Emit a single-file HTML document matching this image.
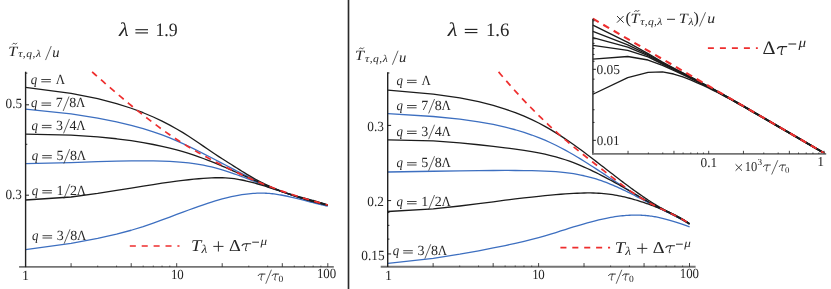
<!DOCTYPE html>
<html><head><meta charset="utf-8"><title>plot</title>
<style>
html,body{margin:0;padding:0;background:#fff;}
body{width:831px;height:289px;overflow:hidden;}
svg{display:block;font-family:"Liberation Serif",serif;text-rendering:geometricPrecision;}
</style></head><body>
<svg width="831" height="289" viewBox="0 0 831 289">
<defs><filter id="g" filterUnits="userSpaceOnUse" x="0" y="0" width="831" height="289"><feOffset dx="0" dy="0"/></filter></defs>
<rect width="831" height="289" fill="#fff"/>
<g id="curves">
<path d="M25.50,109.20 L71.09,113.90 L97.69,118.13 L116.57,121.90 L131.21,125.35 L143.18,128.63 L153.29,131.81 L162.06,134.92 L169.79,137.97 L176.70,140.90 L182.95,143.70 L188.66,146.36 L193.92,148.89 L198.78,151.29 L203.31,153.57 L207.54,155.73 L211.52,157.78 L215.27,159.72 L218.82,161.57 L222.19,163.33 L225.39,165.00 L228.44,166.60 L231.36,168.12 L234.15,169.58 L236.83,170.97 L239.40,172.29 L241.88,173.56 L244.27,174.78 L246.57,175.95 L248.79,177.06 L250.94,178.13 L253.03,179.16 L255.05,180.15 L257.01,181.09 L258.91,182.00 L260.76,182.86 L262.56,183.69 L264.31,184.48 L266.01,185.24 L267.67,185.96 L269.29,186.65 L270.87,187.31 L272.42,187.94 L273.93,188.55 L275.40,189.13 L276.84,189.68 L278.25,190.22 L279.64,190.73 L280.99,191.22 L282.31,191.69 L283.61,192.15 L284.89,192.58 L286.14,193.01 L287.36,193.41 L288.57,193.80 L289.75,194.18 L290.91,194.55 L292.05,194.90 L293.18,195.25 L294.28,195.58 L295.36,195.90 L296.43,196.22 L297.48,196.53 L298.51,196.83 L299.53,197.12 L300.53,197.41 L301.52,197.69 L302.49,197.96 L303.45,198.23 L304.39,198.49 L305.33,198.75 L306.24,199.00 L307.15,199.25 L308.04,199.49 L308.92,199.73 L309.79,199.97 L310.65,200.21 L311.50,200.44 L312.33,200.66 L313.16,200.89 L313.97,201.11 L314.78,201.33 L315.57,201.55 L316.36,201.76 L317.14,201.98 L317.90,202.19 L318.66,202.40 L319.41,202.60 L320.15,202.81 L320.89,203.02 L321.61,203.22 L322.33,203.42 L323.04,203.62 L323.74,203.82 L324.43,204.02 L325.12,204.22 L325.80,204.41 L326.47,204.61 L327.14,204.80 L327.80,205.00" fill="none" stroke="#3d6fc0" stroke-width="1.3" stroke-linejoin="round" />
<path d="M25.50,163.70 L71.09,162.62 L97.69,161.66 L116.57,161.10 L131.21,160.84 L143.18,160.78 L153.29,160.87 L162.06,161.08 L169.79,161.40 L176.70,161.83 L182.95,162.35 L188.66,162.96 L193.92,163.65 L198.78,164.39 L203.31,165.20 L207.54,166.06 L211.52,166.96 L215.27,167.89 L218.82,168.86 L222.19,169.84 L225.39,170.84 L228.44,171.83 L231.36,172.81 L234.15,173.79 L236.83,174.75 L239.40,175.69 L241.88,176.61 L244.27,177.51 L246.57,178.39 L248.79,179.24 L250.94,180.08 L253.03,180.89 L255.05,181.67 L257.01,182.44 L258.91,183.18 L260.76,183.89 L262.56,184.59 L264.31,185.26 L266.01,185.91 L267.67,186.54 L269.29,187.15 L270.87,187.74 L272.42,188.32 L273.93,188.87 L275.40,189.41 L276.84,189.93 L278.25,190.44 L279.64,190.93 L280.99,191.41 L282.31,191.87 L283.61,192.32 L284.89,192.76 L286.14,193.19 L287.36,193.61 L288.57,194.01 L289.75,194.41 L290.91,194.79 L292.05,195.17 L293.18,195.53 L294.28,195.89 L295.36,196.24 L296.43,196.58 L297.48,196.91 L298.51,197.23 L299.53,197.55 L300.53,197.85 L301.52,198.16 L302.49,198.45 L303.45,198.74 L304.39,199.02 L305.33,199.29 L306.24,199.56 L307.15,199.83 L308.04,200.08 L308.92,200.33 L309.79,200.58 L310.65,200.82 L311.50,201.06 L312.33,201.29 L313.16,201.51 L313.97,201.74 L314.78,201.95 L315.57,202.17 L316.36,202.37 L317.14,202.58 L317.90,202.78 L318.66,202.97 L319.41,203.16 L320.15,203.35 L320.89,203.54 L321.61,203.72 L322.33,203.90 L323.04,204.07 L323.74,204.24 L324.43,204.41 L325.12,204.57 L325.80,204.73 L326.47,204.89 L327.14,205.04 L327.80,205.20" fill="none" stroke="#3d6fc0" stroke-width="1.3" stroke-linejoin="round" />
<path d="M25.50,249.60 L71.09,243.29 L97.69,238.47 L116.57,234.20 L131.21,230.25 L143.18,226.56 L153.29,223.11 L162.06,219.94 L169.79,217.06 L176.70,214.46 L182.95,212.11 L188.66,209.99 L193.92,208.08 L198.78,206.35 L203.31,204.79 L207.54,203.38 L211.52,202.10 L215.27,200.95 L218.82,199.91 L222.19,198.97 L225.39,198.13 L228.44,197.37 L231.36,196.69 L234.15,196.09 L236.83,195.56 L239.40,195.09 L241.88,194.69 L244.27,194.33 L246.57,194.03 L248.79,193.78 L250.94,193.58 L253.03,193.41 L255.05,193.29 L257.01,193.20 L258.91,193.15 L260.76,193.13 L262.56,193.15 L264.31,193.19 L266.01,193.26 L267.67,193.35 L269.29,193.47 L270.87,193.61 L272.42,193.77 L273.93,193.95 L275.40,194.14 L276.84,194.34 L278.25,194.56 L279.64,194.78 L280.99,195.01 L282.31,195.25 L283.61,195.49 L284.89,195.74 L286.14,196.00 L287.36,196.26 L288.57,196.51 L289.75,196.78 L290.91,197.04 L292.05,197.30 L293.18,197.57 L294.28,197.83 L295.36,198.10 L296.43,198.36 L297.48,198.62 L298.51,198.88 L299.53,199.14 L300.53,199.40 L301.52,199.65 L302.49,199.90 L303.45,200.15 L304.39,200.40 L305.33,200.64 L306.24,200.88 L307.15,201.12 L308.04,201.36 L308.92,201.59 L309.79,201.82 L310.65,202.04 L311.50,202.26 L312.33,202.48 L313.16,202.70 L313.97,202.91 L314.78,203.11 L315.57,203.32 L316.36,203.52 L317.14,203.71 L317.90,203.91 L318.66,204.10 L319.41,204.28 L320.15,204.46 L320.89,204.64 L321.61,204.81 L322.33,204.98 L323.04,205.15 L323.74,205.31 L324.43,205.47 L325.12,205.63 L325.80,205.78 L326.47,205.93 L327.14,206.07 L327.80,206.21" fill="none" stroke="#3d6fc0" stroke-width="1.3" stroke-linejoin="round" />
<path d="M388.00,113.60 L433.23,116.48 L459.80,119.16 L478.65,121.82 L493.27,124.46 L505.22,127.10 L515.33,129.75 L524.08,132.38 L531.80,135.01 L538.70,137.61 L544.95,140.19 L550.65,142.74 L555.89,145.25 L560.75,147.73 L565.27,150.15 L569.50,152.51 L573.47,154.81 L577.22,157.02 L580.76,159.17 L584.13,161.24 L587.32,163.25 L590.37,165.18 L593.28,167.05 L596.07,168.85 L598.75,170.60 L601.32,172.28 L603.79,173.90 L606.18,175.47 L608.48,176.99 L610.70,178.45 L612.85,179.87 L614.93,181.24 L616.94,182.57 L618.90,183.85 L620.80,185.10 L622.65,186.30 L624.44,187.47 L626.19,188.60 L627.89,189.70 L629.55,190.76 L631.17,191.79 L632.75,192.79 L634.29,193.76 L635.80,194.70 L637.27,195.62 L638.71,196.51 L640.12,197.37 L641.50,198.21 L642.85,199.02 L644.17,199.80 L645.47,200.56 L646.74,201.30 L647.99,202.02 L649.22,202.71 L650.42,203.37 L651.60,204.02 L652.76,204.64 L653.90,205.25 L655.02,205.84 L656.12,206.41 L657.21,206.96 L658.27,207.50 L659.32,208.03 L660.35,208.54 L661.37,209.04 L662.37,209.53 L663.35,210.01 L664.33,210.48 L665.28,210.94 L666.23,211.40 L667.15,211.84 L668.07,212.28 L668.98,212.71 L669.87,213.14 L670.75,213.56 L671.61,213.98 L672.47,214.40 L673.32,214.81 L674.15,215.22 L674.98,215.63 L675.79,216.04 L676.59,216.44 L677.39,216.85 L678.17,217.25 L678.95,217.66 L679.72,218.06 L680.47,218.47 L681.22,218.88 L681.96,219.28 L682.70,219.69 L683.42,220.10 L684.14,220.51 L684.84,220.92 L685.54,221.34 L686.24,221.75 L686.92,222.17 L687.60,222.59 L688.28,223.01 L688.94,223.44 L689.50,223.80" fill="none" stroke="#3d6fc0" stroke-width="1.3" stroke-linejoin="round" />
<path d="M388.00,172.00 L433.23,171.23 L459.80,170.80 L478.65,170.58 L493.27,170.48 L505.22,170.46 L515.33,170.49 L524.08,170.57 L531.80,170.67 L538.70,170.82 L544.95,171.04 L550.65,171.33 L555.89,171.69 L560.75,172.11 L565.27,172.60 L569.50,173.14 L573.47,173.73 L577.22,174.37 L580.76,175.04 L584.13,175.76 L587.32,176.52 L590.37,177.30 L593.28,178.12 L596.07,178.96 L598.75,179.82 L601.32,180.69 L603.79,181.58 L606.18,182.48 L608.48,183.38 L610.70,184.28 L612.85,185.17 L614.93,186.06 L616.94,186.95 L618.90,187.83 L620.80,188.70 L622.65,189.56 L624.44,190.41 L626.19,191.25 L627.89,192.08 L629.55,192.90 L631.17,193.70 L632.75,194.50 L634.29,195.28 L635.80,196.05 L637.27,196.81 L638.71,197.55 L640.12,198.29 L641.50,199.01 L642.85,199.71 L644.17,200.40 L645.47,201.08 L646.74,201.75 L647.99,202.39 L649.22,203.03 L650.42,203.65 L651.60,204.25 L652.76,204.84 L653.90,205.42 L655.02,205.99 L656.12,206.54 L657.21,207.08 L658.27,207.62 L659.32,208.14 L660.35,208.66 L661.37,209.16 L662.37,209.66 L663.35,210.15 L664.33,210.64 L665.28,211.12 L666.23,211.59 L667.15,212.05 L668.07,212.51 L668.98,212.97 L669.87,213.42 L670.75,213.86 L671.61,214.31 L672.47,214.74 L673.32,215.18 L674.15,215.61 L674.98,216.03 L675.79,216.46 L676.59,216.88 L677.39,217.29 L678.17,217.71 L678.95,218.12 L679.72,218.53 L680.47,218.93 L681.22,219.34 L681.96,219.74 L682.70,220.14 L683.42,220.54 L684.14,220.94 L684.84,221.33 L685.54,221.72 L686.24,222.12 L686.92,222.51 L687.60,222.90 L688.28,223.28 L688.94,223.67 L689.50,224.00" fill="none" stroke="#3d6fc0" stroke-width="1.3" stroke-linejoin="round" />
<path d="M388.00,263.30 L433.23,258.34 L459.80,254.19 L478.65,250.80 L493.27,247.96 L505.22,245.52 L515.33,243.35 L524.08,241.35 L531.80,239.45 L538.70,237.62 L544.95,235.84 L550.65,234.14 L555.89,232.52 L560.75,230.99 L565.27,229.56 L569.50,228.23 L573.47,226.99 L577.22,225.83 L580.76,224.77 L584.13,223.78 L587.32,222.87 L590.37,222.03 L593.28,221.26 L596.07,220.55 L598.75,219.90 L601.32,219.31 L603.79,218.76 L606.18,218.27 L608.48,217.82 L610.70,217.42 L612.85,217.05 L614.93,216.73 L616.94,216.43 L618.90,216.18 L620.80,215.95 L622.65,215.75 L624.44,215.59 L626.19,215.44 L627.89,215.33 L629.55,215.24 L631.17,215.17 L632.75,215.12 L634.29,215.09 L635.80,215.08 L637.27,215.09 L638.71,215.12 L640.12,215.17 L641.50,215.23 L642.85,215.30 L644.17,215.39 L645.47,215.50 L646.74,215.62 L647.99,215.75 L649.22,215.89 L650.42,216.04 L651.60,216.21 L652.76,216.39 L653.90,216.57 L655.02,216.76 L656.12,216.97 L657.21,217.18 L658.27,217.39 L659.32,217.61 L660.35,217.84 L661.37,218.07 L662.37,218.30 L663.35,218.54 L664.33,218.78 L665.28,219.03 L666.23,219.27 L667.15,219.52 L668.07,219.77 L668.98,220.03 L669.87,220.28 L670.75,220.54 L671.61,220.79 L672.47,221.05 L673.32,221.31 L674.15,221.57 L674.98,221.82 L675.79,222.08 L676.59,222.34 L677.39,222.59 L678.17,222.85 L678.95,223.11 L679.72,223.36 L680.47,223.62 L681.22,223.87 L681.96,224.12 L682.70,224.37 L683.42,224.62 L684.14,224.87 L684.84,225.12 L685.54,225.36 L686.24,225.61 L686.92,225.85 L687.60,226.09 L688.28,226.33 L688.94,226.57 L689.60,226.81" fill="none" stroke="#3d6fc0" stroke-width="1.3" stroke-linejoin="round" />
<path d="M25.50,87.30 L71.09,93.47 L97.69,98.68 L116.57,103.58 L131.21,108.25 L143.18,112.73 L153.29,117.02 L162.06,121.14 L169.79,125.12 L176.70,128.95 L182.95,132.66 L188.66,136.26 L193.92,139.73 L198.78,143.03 L203.31,146.15 L207.54,149.07 L211.52,151.78 L215.27,154.29 L218.82,156.61 L222.19,158.78 L225.39,160.81 L228.44,162.73 L231.36,164.56 L234.15,166.33 L236.83,168.02 L239.40,169.64 L241.88,171.19 L244.27,172.67 L246.57,174.07 L248.79,175.40 L250.94,176.66 L253.03,177.86 L255.05,178.98 L257.01,180.06 L258.91,181.07 L260.76,182.03 L262.56,182.95 L264.31,183.82 L266.01,184.65 L267.67,185.44 L269.29,186.19 L270.87,186.90 L272.42,187.58 L273.93,188.23 L275.40,188.84 L276.84,189.43 L278.25,189.99 L279.64,190.53 L280.99,191.04 L282.31,191.53 L283.61,191.99 L284.89,192.43 L286.14,192.85 L287.36,193.26 L288.57,193.64 L289.75,194.02 L290.91,194.37 L292.05,194.72 L293.18,195.05 L294.28,195.37 L295.36,195.68 L296.43,195.98 L297.48,196.28 L298.51,196.56 L299.53,196.84 L300.53,197.11 L301.52,197.38 L302.49,197.64 L303.45,197.89 L304.39,198.14 L305.33,198.39 L306.24,198.63 L307.15,198.88 L308.04,199.11 L308.92,199.35 L309.79,199.58 L310.65,199.81 L311.50,200.04 L312.33,200.27 L313.16,200.50 L313.97,200.72 L314.78,200.95 L315.57,201.17 L316.36,201.39 L317.14,201.62 L317.90,201.84 L318.66,202.06 L319.41,202.28 L320.15,202.51 L320.89,202.73 L321.61,202.96 L322.33,203.18 L323.04,203.40 L323.74,203.63 L324.43,203.86 L325.12,204.08 L325.80,204.31 L326.47,204.54 L327.14,204.77 L327.80,205.00" fill="none" stroke="#1c1c1c" stroke-width="1.3" stroke-linejoin="round" />
<path d="M25.50,134.10 L71.09,135.21 L97.69,136.89 L116.57,138.77 L131.21,140.69 L143.18,142.61 L153.29,144.49 L162.06,146.35 L169.79,148.18 L176.70,149.97 L182.95,151.74 L188.66,153.47 L193.92,155.17 L198.78,156.84 L203.31,158.49 L207.54,160.09 L211.52,161.66 L215.27,163.19 L218.82,164.66 L222.19,166.09 L225.39,167.47 L228.44,168.80 L231.36,170.09 L234.15,171.32 L236.83,172.51 L239.40,173.66 L241.88,174.77 L244.27,175.83 L246.57,176.86 L248.79,177.85 L250.94,178.80 L253.03,179.72 L255.05,180.60 L257.01,181.46 L258.91,182.28 L260.76,183.07 L262.56,183.83 L264.31,184.57 L266.01,185.28 L267.67,185.96 L269.29,186.62 L270.87,187.26 L272.42,187.88 L273.93,188.47 L275.40,189.05 L276.84,189.61 L278.25,190.15 L279.64,190.67 L280.99,191.18 L282.31,191.67 L283.61,192.14 L284.89,192.61 L286.14,193.05 L287.36,193.49 L288.57,193.91 L289.75,194.32 L290.91,194.72 L292.05,195.11 L293.18,195.49 L294.28,195.85 L295.36,196.21 L296.43,196.56 L297.48,196.90 L298.51,197.22 L299.53,197.55 L300.53,197.86 L301.52,198.16 L302.49,198.46 L303.45,198.75 L304.39,199.03 L305.33,199.31 L306.24,199.57 L307.15,199.84 L308.04,200.09 L308.92,200.34 L309.79,200.58 L310.65,200.82 L311.50,201.05 L312.33,201.28 L313.16,201.50 L313.97,201.71 L314.78,201.93 L315.57,202.13 L316.36,202.33 L317.14,202.53 L317.90,202.72 L318.66,202.91 L319.41,203.09 L320.15,203.27 L320.89,203.44 L321.61,203.62 L322.33,203.78 L323.04,203.95 L323.74,204.11 L324.43,204.26 L325.12,204.42 L325.80,204.57 L326.47,204.71 L327.14,204.85 L327.80,204.99" fill="none" stroke="#1c1c1c" stroke-width="1.3" stroke-linejoin="round" />
<path d="M25.50,199.99 L71.09,197.00 L97.69,193.43 L116.57,190.46 L131.21,188.06 L143.18,186.11 L153.29,184.52 L162.06,183.19 L169.79,182.09 L176.70,181.17 L182.95,180.39 L188.66,179.74 L193.92,179.19 L198.78,178.73 L203.31,178.36 L207.54,178.07 L211.52,177.87 L215.27,177.75 L218.82,177.72 L222.19,177.77 L225.39,177.90 L228.44,178.10 L231.36,178.37 L234.15,178.71 L236.83,179.10 L239.40,179.53 L241.88,180.00 L244.27,180.50 L246.57,181.01 L248.79,181.55 L250.94,182.09 L253.03,182.64 L255.05,183.20 L257.01,183.75 L258.91,184.31 L260.76,184.86 L262.56,185.41 L264.31,185.95 L266.01,186.49 L267.67,187.02 L269.29,187.54 L270.87,188.05 L272.42,188.55 L273.93,189.04 L275.40,189.53 L276.84,190.00 L278.25,190.47 L279.64,190.93 L280.99,191.38 L282.31,191.82 L283.61,192.25 L284.89,192.67 L286.14,193.09 L287.36,193.50 L288.57,193.90 L289.75,194.29 L290.91,194.67 L292.05,195.05 L293.18,195.41 L294.28,195.77 L295.36,196.13 L296.43,196.47 L297.48,196.81 L298.51,197.14 L299.53,197.47 L300.53,197.78 L301.52,198.09 L302.49,198.40 L303.45,198.70 L304.39,198.99 L305.33,199.27 L306.24,199.55 L307.15,199.83 L308.04,200.09 L308.92,200.35 L309.79,200.61 L310.65,200.86 L311.50,201.11 L312.33,201.35 L313.16,201.58 L313.97,201.81 L314.78,202.03 L315.57,202.25 L316.36,202.47 L317.14,202.68 L317.90,202.88 L318.66,203.08 L319.41,203.28 L320.15,203.47 L320.89,203.65 L321.61,203.84 L322.33,204.02 L323.04,204.19 L323.74,204.36 L324.43,204.53 L325.12,204.69 L325.80,204.85 L326.47,205.00 L327.14,205.15 L327.80,205.30" fill="none" stroke="#1c1c1c" stroke-width="1.3" stroke-linejoin="round" />
<path d="M388.00,90.10 L433.23,94.06 L459.80,97.89 L478.65,101.71 L493.27,105.45 L505.22,109.10 L515.33,112.65 L524.08,116.15 L531.80,119.60 L538.70,123.00 L544.95,126.35 L550.65,129.63 L555.89,132.82 L560.75,135.91 L565.27,138.90 L569.50,141.78 L573.47,144.56 L577.22,147.24 L580.76,149.82 L584.13,152.31 L587.32,154.71 L590.37,157.01 L593.28,159.24 L596.07,161.38 L598.75,163.44 L601.32,165.43 L603.79,167.34 L606.18,169.19 L608.48,170.98 L610.70,172.70 L612.85,174.36 L614.93,175.96 L616.94,177.51 L618.90,179.01 L620.80,180.46 L622.65,181.86 L624.44,183.22 L626.19,184.53 L627.89,185.80 L629.55,187.03 L631.17,188.22 L632.75,189.37 L634.29,190.49 L635.80,191.57 L637.27,192.62 L638.71,193.64 L640.12,194.63 L641.50,195.58 L642.85,196.51 L644.17,197.41 L645.47,198.29 L646.74,199.14 L647.99,199.96 L649.22,200.76 L650.42,201.53 L651.60,202.28 L652.76,203.01 L653.90,203.72 L655.02,204.41 L656.12,205.07 L657.21,205.72 L658.27,206.35 L659.32,206.95 L660.35,207.54 L661.37,208.12 L662.37,208.67 L663.35,209.21 L664.33,209.73 L665.28,210.24 L666.23,210.73 L667.15,211.21 L668.07,211.68 L668.98,212.14 L669.87,212.59 L670.75,213.03 L671.61,213.46 L672.47,213.89 L673.32,214.32 L674.15,214.74 L674.98,215.15 L675.79,215.57 L676.59,215.98 L677.39,216.39 L678.17,216.80 L678.95,217.21 L679.72,217.63 L680.47,218.04 L681.22,218.45 L681.96,218.87 L682.70,219.29 L683.42,219.71 L684.14,220.13 L684.84,220.56 L685.54,220.99 L686.24,221.43 L686.92,221.87 L687.60,222.31 L688.28,222.76 L688.94,223.21 L689.50,223.60" fill="none" stroke="#1c1c1c" stroke-width="1.3" stroke-linejoin="round" />
<path d="M388.00,139.80 L433.23,140.87 L459.80,142.89 L478.65,144.75 L493.27,146.38 L505.22,147.80 L515.33,149.08 L524.08,150.32 L531.80,151.58 L538.70,152.86 L544.95,154.18 L550.65,155.52 L555.89,156.90 L560.75,158.31 L565.27,159.75 L569.50,161.20 L573.47,162.67 L577.22,164.14 L580.76,165.61 L584.13,167.06 L587.32,168.49 L590.37,169.90 L593.28,171.29 L596.07,172.65 L598.75,173.99 L601.32,175.30 L603.79,176.58 L606.18,177.83 L608.48,179.06 L610.70,180.26 L612.85,181.43 L614.93,182.58 L616.94,183.70 L618.90,184.80 L620.80,185.87 L622.65,186.92 L624.44,187.94 L626.19,188.94 L627.89,189.92 L629.55,190.88 L631.17,191.82 L632.75,192.74 L634.29,193.64 L635.80,194.52 L637.27,195.38 L638.71,196.22 L640.12,197.05 L641.50,197.85 L642.85,198.64 L644.17,199.40 L645.47,200.14 L646.74,200.86 L647.99,201.56 L649.22,202.24 L650.42,202.89 L651.60,203.52 L652.76,204.14 L653.90,204.73 L655.02,205.31 L656.12,205.87 L657.21,206.41 L658.27,206.94 L659.32,207.46 L660.35,207.97 L661.37,208.46 L662.37,208.94 L663.35,209.42 L664.33,209.88 L665.28,210.34 L666.23,210.78 L667.15,211.22 L668.07,211.66 L668.98,212.09 L669.87,212.52 L670.75,212.94 L671.61,213.36 L672.47,213.78 L673.32,214.20 L674.15,214.61 L674.98,215.03 L675.79,215.44 L676.59,215.86 L677.39,216.28 L678.17,216.70 L678.95,217.12 L679.72,217.54 L680.47,217.96 L681.22,218.39 L681.96,218.82 L682.70,219.25 L683.42,219.68 L684.14,220.12 L684.84,220.57 L685.54,221.01 L686.24,221.46 L686.92,221.91 L687.60,222.37 L688.28,222.83 L688.94,223.30 L689.50,223.70" fill="none" stroke="#1c1c1c" stroke-width="1.3" stroke-linejoin="round" />
<path d="M388.00,211.49 L433.23,208.84 L459.80,205.98 L478.65,203.65 L493.27,201.77 L505.22,200.23 L515.33,198.97 L524.08,197.92 L531.80,197.04 L538.70,196.29 L544.95,195.66 L550.65,195.12 L555.89,194.66 L560.75,194.27 L565.27,193.93 L569.50,193.65 L573.47,193.42 L577.22,193.23 L580.76,193.10 L584.13,193.01 L587.32,192.97 L590.37,192.97 L593.28,193.02 L596.07,193.11 L598.75,193.24 L601.32,193.40 L603.79,193.60 L606.18,193.83 L608.48,194.09 L610.70,194.38 L612.85,194.70 L614.93,195.04 L616.94,195.40 L618.90,195.78 L620.80,196.17 L622.65,196.57 L624.44,196.98 L626.19,197.40 L627.89,197.82 L629.55,198.25 L631.17,198.68 L632.75,199.12 L634.29,199.56 L635.80,200.00 L637.27,200.44 L638.71,200.88 L640.12,201.32 L641.50,201.76 L642.85,202.20 L644.17,202.65 L645.47,203.09 L646.74,203.53 L647.99,203.97 L649.22,204.41 L650.42,204.85 L651.60,205.30 L652.76,205.74 L653.90,206.18 L655.02,206.62 L656.12,207.06 L657.21,207.50 L658.27,207.94 L659.32,208.38 L660.35,208.82 L661.37,209.26 L662.37,209.69 L663.35,210.13 L664.33,210.57 L665.28,211.01 L666.23,211.44 L667.15,211.88 L668.07,212.32 L668.98,212.75 L669.87,213.19 L670.75,213.62 L671.61,214.05 L672.47,214.49 L673.32,214.92 L674.15,215.35 L674.98,215.78 L675.79,216.21 L676.59,216.64 L677.39,217.07 L678.17,217.50 L678.95,217.93 L679.72,218.35 L680.47,218.78 L681.22,219.21 L681.96,219.63 L682.70,220.06 L683.42,220.48 L684.14,220.90 L684.84,221.32 L685.54,221.75 L686.24,222.17 L686.92,222.59 L687.60,223.01 L688.28,223.43 L688.94,223.84 L689.50,224.20" fill="none" stroke="#1c1c1c" stroke-width="1.3" stroke-linejoin="round" />
<path d="M92.10,71.90 L94.75,74.24 L97.40,76.58 L100.04,78.90 L102.69,81.22 L105.34,83.54 L107.99,85.84 L110.64,88.13 L113.29,90.41 L115.93,92.68 L118.58,94.94 L121.23,97.19 L123.88,99.41 L126.53,101.63 L129.18,103.83 L131.82,106.01 L134.47,108.17 L137.12,110.31 L139.77,112.43 L142.42,114.53 L145.07,116.61 L147.71,118.67 L150.36,120.70 L153.01,122.71 L155.66,124.69 L158.31,126.65 L160.96,128.57 L163.60,130.47 L166.25,132.34 L168.90,134.18 L171.55,135.99 L174.20,137.77 L176.85,139.51 L179.49,141.23 L182.14,142.91 L184.79,144.56 L187.44,146.18 L190.09,147.78 L192.74,149.35 L195.38,150.89 L198.03,152.41 L200.68,153.91 L203.33,155.38 L205.98,156.83 L208.63,158.26 L211.27,159.68 L213.92,161.07 L216.57,162.45 L219.22,163.81 L221.87,165.15 L224.52,166.48 L227.16,167.79 L229.81,169.09 L232.46,170.37 L235.11,171.63 L237.76,172.88 L240.41,174.11 L243.05,175.33 L245.70,176.53 L248.35,177.71 L251.00,178.88 L253.65,180.04 L256.30,181.18 L258.94,182.30 L261.59,183.40 L264.24,184.48 L266.89,185.54 L269.54,186.57 L272.19,187.58 L274.83,188.57 L277.48,189.54 L280.13,190.49 L282.78,191.42 L285.43,192.33 L288.08,193.23 L290.72,194.10 L293.37,194.96 L296.02,195.81 L298.67,196.64 L301.32,197.45 L303.97,198.26 L306.61,199.05 L309.26,199.82 L311.91,200.59 L314.56,201.35 L317.21,202.09 L319.86,202.83 L322.50,203.56 L325.15,204.28 L327.80,205.00" fill="none" stroke="#ee2e2e" stroke-width="1.7" stroke-linejoin="round" stroke-dasharray="6.4 5.4"/>
<path d="M498.60,71.90 L500.74,74.44 L502.89,76.96 L505.03,79.45 L507.18,81.92 L509.32,84.37 L511.47,86.79 L513.61,89.19 L515.76,91.57 L517.90,93.92 L520.05,96.24 L522.19,98.55 L524.34,100.82 L526.48,103.08 L528.63,105.31 L530.77,107.52 L532.92,109.70 L535.06,111.86 L537.21,114.00 L539.35,116.11 L541.50,118.20 L543.64,120.26 L545.79,122.31 L547.93,124.32 L550.08,126.32 L552.22,128.29 L554.37,130.24 L556.51,132.16 L558.66,134.06 L560.80,135.94 L562.95,137.80 L565.09,139.65 L567.24,141.47 L569.38,143.27 L571.53,145.06 L573.67,146.84 L575.82,148.60 L577.96,150.34 L580.11,152.08 L582.25,153.80 L584.40,155.52 L586.54,157.22 L588.69,158.92 L590.83,160.61 L592.98,162.29 L595.12,163.97 L597.27,165.64 L599.41,167.31 L601.56,168.98 L603.70,170.65 L605.85,172.32 L607.99,173.99 L610.14,175.66 L612.28,177.33 L614.43,179.00 L616.57,180.67 L618.72,182.32 L620.86,183.96 L623.01,185.58 L625.15,187.18 L627.30,188.76 L629.44,190.31 L631.59,191.83 L633.73,193.31 L635.88,194.76 L638.02,196.16 L640.17,197.52 L642.31,198.83 L644.46,200.10 L646.60,201.34 L648.75,202.53 L650.89,203.68 L653.04,204.80 L655.18,205.89 L657.33,206.95 L659.47,207.99 L661.62,209.02 L663.76,210.05 L665.91,211.07 L668.05,212.09 L670.20,213.12 L672.34,214.17 L674.49,215.24 L676.63,216.33 L678.78,217.46 L680.92,218.63 L683.07,219.84 L685.21,221.10 L687.36,222.42 L689.50,223.80" fill="none" stroke="#ee2e2e" stroke-width="1.7" stroke-linejoin="round" stroke-dasharray="6.4 5.4"/>
</g>
<g id="inset-curves">
<path d="M592.90,25.06 L627.74,42.44 L648.06,53.54 L662.48,62.12 L673.66,68.12 L682.80,72.92 L690.52,76.91 L697.22,80.40 L703.12,83.53 L708.40,86.30 L713.18,88.91 L717.54,91.30 L721.55,93.53 L725.26,95.59 L728.72,97.50 L731.96,99.34 L734.99,101.06 L737.86,102.68 L740.57,104.22 L743.14,105.68 L745.58,107.10 L747.92,108.45 L750.14,109.75 L752.28,110.99 L754.32,112.17 L756.29,113.32 L758.18,114.41 L760.00,115.47 L761.76,116.50 L763.46,117.48 L765.10,118.44 L766.69,119.36 L768.24,120.26 L769.73,121.13 L771.19,121.97 L772.60,122.79 L773.97,123.59 L775.31,124.36 L776.61,125.12 L777.88,125.86 L779.12,126.58 L780.32,127.28 L781.50,127.96 L782.65,128.63 L783.78,129.29 L784.88,129.93 L785.96,130.55 L787.02,131.17 L788.05,131.77 L789.06,132.35 L790.05,132.93 L791.03,133.50 L791.98,134.05 L792.92,134.60 L793.84,135.13 L794.74,135.65 L795.63,136.17 L796.50,136.68 L797.36,137.17 L798.20,137.66 L799.03,138.14 L799.84,138.62 L800.64,139.08 L801.43,139.54 L802.21,139.99 L802.98,140.44 L803.73,140.88 L804.47,141.31 L805.20,141.73 L805.92,142.15 L806.64,142.56 L807.34,142.97 L808.03,143.37 L808.71,143.77 L809.38,144.16 L810.05,144.55 L810.70,144.93 L811.35,145.30 L811.99,145.67 L812.62,146.04 L813.24,146.40 L813.85,146.76 L814.46,147.11 L815.06,147.46 L815.65,147.80 L816.24,148.14 L816.82,148.48 L817.39,148.81 L817.96,149.14 L818.52,149.47 L819.07,149.79 L819.62,150.11 L820.16,150.42 L820.70,150.73 L821.23,151.04 L821.75,151.35 L822.27,151.65 L822.79,151.95 L823.30,152.24 L823.80,152.54" fill="none" stroke="#1c1c1c" stroke-width="1.35" stroke-linejoin="round"/>
<path d="M592.90,31.46 L627.74,44.94 L648.06,54.54 L662.48,62.72 L673.66,68.52 L682.80,73.22 L690.52,77.21 L697.22,80.70 L703.12,83.78 L708.40,86.55 L713.18,89.14 L717.54,91.50 L721.55,93.73 L725.26,95.79 L728.72,97.70 L731.96,99.52 L734.99,101.24 L737.86,102.85 L740.57,104.38 L743.14,105.83 L745.58,107.25 L747.92,108.60 L750.14,109.90 L752.28,111.14 L754.32,112.32 L756.29,113.47 L758.18,114.56 L760.00,115.62 L761.76,116.65 L763.46,117.63 L765.10,118.59 L766.69,119.51 L768.24,120.41 L769.73,121.28 L771.19,122.12 L772.60,122.94 L773.97,123.74 L775.31,124.51 L776.61,125.27 L777.88,126.01 L779.12,126.73 L780.32,127.43 L781.50,128.11 L782.65,128.78 L783.78,129.44 L784.88,130.08 L785.96,130.70 L787.02,131.32 L788.05,131.92 L789.06,132.50 L790.05,133.08 L791.03,133.65 L791.98,134.20 L792.92,134.75 L793.84,135.28 L794.74,135.80 L795.63,136.32 L796.50,136.83 L797.36,137.32 L798.20,137.81 L799.03,138.29 L799.84,138.77 L800.64,139.23 L801.43,139.69 L802.21,140.14 L802.98,140.59 L803.73,141.03 L804.47,141.46 L805.20,141.88 L805.92,142.30 L806.64,142.71 L807.34,143.12 L808.03,143.52 L808.71,143.92 L809.38,144.31 L810.05,144.70 L810.70,145.08 L811.35,145.45 L811.99,145.82 L812.62,146.19 L813.24,146.55 L813.85,146.91 L814.46,147.26 L815.06,147.61 L815.65,147.95 L816.24,148.29 L816.82,148.63 L817.39,148.96 L817.96,149.29 L818.52,149.62 L819.07,149.94 L819.62,150.26 L820.16,150.57 L820.70,150.88 L821.23,151.19 L821.75,151.50 L822.27,151.80 L822.79,152.10 L823.30,152.39 L823.80,152.69" fill="none" stroke="#1c1c1c" stroke-width="1.35" stroke-linejoin="round"/>
<path d="M592.90,37.56 L627.74,47.04 L648.06,55.74 L662.48,63.32 L673.66,68.92 L682.80,73.52 L690.52,77.51 L697.22,80.95 L703.12,84.03 L708.40,86.75 L713.18,89.31 L717.54,91.65 L721.55,93.88 L725.26,95.94 L728.72,97.85 L731.96,99.67 L734.99,101.39 L737.86,103.00 L740.57,104.53 L743.14,105.98 L745.58,107.40 L747.92,108.75 L750.14,110.05 L752.28,111.29 L754.32,112.47 L756.29,113.62 L758.18,114.71 L760.00,115.77 L761.76,116.80 L763.46,117.78 L765.10,118.74 L766.69,119.66 L768.24,120.56 L769.73,121.43 L771.19,122.27 L772.60,123.09 L773.97,123.89 L775.31,124.66 L776.61,125.42 L777.88,126.16 L779.12,126.88 L780.32,127.58 L781.50,128.26 L782.65,128.93 L783.78,129.59 L784.88,130.23 L785.96,130.85 L787.02,131.47 L788.05,132.07 L789.06,132.65 L790.05,133.23 L791.03,133.80 L791.98,134.35 L792.92,134.90 L793.84,135.43 L794.74,135.95 L795.63,136.47 L796.50,136.98 L797.36,137.47 L798.20,137.96 L799.03,138.44 L799.84,138.92 L800.64,139.38 L801.43,139.84 L802.21,140.29 L802.98,140.74 L803.73,141.18 L804.47,141.61 L805.20,142.03 L805.92,142.45 L806.64,142.86 L807.34,143.27 L808.03,143.67 L808.71,144.07 L809.38,144.46 L810.05,144.85 L810.70,145.23 L811.35,145.60 L811.99,145.97 L812.62,146.34 L813.24,146.70 L813.85,147.06 L814.46,147.41 L815.06,147.76 L815.65,148.10 L816.24,148.44 L816.82,148.78 L817.39,149.11 L817.96,149.44 L818.52,149.77 L819.07,150.09 L819.62,150.41 L820.16,150.72 L820.70,151.03 L821.23,151.34 L821.75,151.65 L822.27,151.95 L822.79,152.25 L823.30,152.54 L823.80,152.84" fill="none" stroke="#1c1c1c" stroke-width="1.35" stroke-linejoin="round"/>
<path d="M592.90,45.36 L627.74,50.44 L648.06,56.94 L662.48,64.02 L673.66,69.42 L682.80,73.92 L690.52,77.81 L697.22,81.20 L703.12,84.23 L708.40,86.95 L713.18,89.49 L717.54,91.80 L721.55,94.03 L725.26,96.09 L728.72,98.00 L731.96,99.82 L734.99,101.54 L737.86,103.15 L740.57,104.68 L743.14,106.13 L745.58,107.55 L747.92,108.90 L750.14,110.20 L752.28,111.44 L754.32,112.62 L756.29,113.77 L758.18,114.86 L760.00,115.92 L761.76,116.95 L763.46,117.93 L765.10,118.89 L766.69,119.81 L768.24,120.71 L769.73,121.58 L771.19,122.42 L772.60,123.24 L773.97,124.04 L775.31,124.81 L776.61,125.57 L777.88,126.31 L779.12,127.03 L780.32,127.73 L781.50,128.41 L782.65,129.08 L783.78,129.74 L784.88,130.38 L785.96,131.00 L787.02,131.62 L788.05,132.22 L789.06,132.80 L790.05,133.38 L791.03,133.95 L791.98,134.50 L792.92,135.05 L793.84,135.58 L794.74,136.10 L795.63,136.62 L796.50,137.13 L797.36,137.62 L798.20,138.11 L799.03,138.59 L799.84,139.07 L800.64,139.53 L801.43,139.99 L802.21,140.44 L802.98,140.89 L803.73,141.33 L804.47,141.76 L805.20,142.18 L805.92,142.60 L806.64,143.01 L807.34,143.42 L808.03,143.82 L808.71,144.22 L809.38,144.61 L810.05,145.00 L810.70,145.38 L811.35,145.75 L811.99,146.12 L812.62,146.49 L813.24,146.85 L813.85,147.21 L814.46,147.56 L815.06,147.91 L815.65,148.25 L816.24,148.59 L816.82,148.93 L817.39,149.26 L817.96,149.59 L818.52,149.92 L819.07,150.24 L819.62,150.56 L820.16,150.87 L820.70,151.18 L821.23,151.49 L821.75,151.80 L822.27,152.10 L822.79,152.40 L823.30,152.69 L823.80,152.99" fill="none" stroke="#1c1c1c" stroke-width="1.35" stroke-linejoin="round"/>
<path d="M592.90,59.16 L627.74,56.54 L648.06,60.04 L662.48,65.42 L673.66,70.32 L682.80,74.62 L690.52,78.41 L697.22,81.70 L703.12,84.63 L708.40,87.25 L713.18,89.76 L717.54,92.05 L721.55,94.26 L725.26,96.30 L728.72,98.20 L731.96,100.02 L734.99,101.74 L737.86,103.35 L740.57,104.88 L743.14,106.33 L745.58,107.74 L747.92,109.09 L750.14,110.38 L752.28,111.61 L754.32,112.80 L756.29,113.93 L758.18,115.03 L760.00,116.08 L761.76,117.10 L763.46,118.08 L765.10,119.04 L766.69,119.96 L768.24,120.86 L769.73,121.73 L771.19,122.57 L772.60,123.39 L773.97,124.19 L775.31,124.96 L776.61,125.72 L777.88,126.46 L779.12,127.18 L780.32,127.88 L781.50,128.56 L782.65,129.23 L783.78,129.89 L784.88,130.53 L785.96,131.15 L787.02,131.77 L788.05,132.37 L789.06,132.95 L790.05,133.53 L791.03,134.10 L791.98,134.65 L792.92,135.20 L793.84,135.73 L794.74,136.25 L795.63,136.77 L796.50,137.28 L797.36,137.77 L798.20,138.26 L799.03,138.74 L799.84,139.22 L800.64,139.68 L801.43,140.14 L802.21,140.59 L802.98,141.04 L803.73,141.48 L804.47,141.91 L805.20,142.33 L805.92,142.75 L806.64,143.16 L807.34,143.57 L808.03,143.97 L808.71,144.37 L809.38,144.76 L810.05,145.15 L810.70,145.53 L811.35,145.90 L811.99,146.27 L812.62,146.64 L813.24,147.00 L813.85,147.36 L814.46,147.71 L815.06,148.06 L815.65,148.40 L816.24,148.74 L816.82,149.08 L817.39,149.41 L817.96,149.74 L818.52,150.07 L819.07,150.39 L819.62,150.71 L820.16,151.02 L820.70,151.33 L821.23,151.64 L821.75,151.95 L822.27,152.25 L822.79,152.55 L823.30,152.84 L823.80,153.14" fill="none" stroke="#1c1c1c" stroke-width="1.35" stroke-linejoin="round"/>
<path d="M592.90,94.26 L627.74,77.64 L648.06,72.34 L662.48,71.92 L673.66,74.02 L682.80,76.92 L690.52,79.91 L697.22,82.80 L703.12,85.43 L708.40,87.90 L713.18,90.28 L717.54,92.45 L721.55,94.61 L725.26,96.60 L728.72,98.45 L731.96,100.26 L734.99,101.97 L737.86,103.57 L740.57,105.09 L743.14,106.53 L745.58,107.94 L747.92,109.28 L750.14,110.56 L752.28,111.79 L754.32,112.97 L756.29,114.10 L758.18,115.19 L760.00,116.24 L761.76,117.25 L763.46,118.23 L765.10,119.18 L766.69,120.10 L768.24,121.00 L769.73,121.86 L771.19,122.71 L772.60,123.52 L773.97,124.32 L775.31,125.09 L776.61,125.85 L777.88,126.58 L779.12,127.30 L780.32,128.00 L781.50,128.68 L782.65,129.35 L783.78,130.00 L784.88,130.64 L785.96,131.26 L787.02,131.87 L788.05,132.47 L789.06,133.05 L790.05,133.63 L791.03,134.20 L791.98,134.75 L792.92,135.30 L793.84,135.83 L794.74,136.35 L795.63,136.87 L796.50,137.38 L797.36,137.87 L798.20,138.36 L799.03,138.84 L799.84,139.32 L800.64,139.78 L801.43,140.24 L802.21,140.69 L802.98,141.14 L803.73,141.58 L804.47,142.01 L805.20,142.43 L805.92,142.85 L806.64,143.26 L807.34,143.67 L808.03,144.07 L808.71,144.47 L809.38,144.86 L810.05,145.25 L810.70,145.63 L811.35,146.00 L811.99,146.37 L812.62,146.74 L813.24,147.10 L813.85,147.46 L814.46,147.81 L815.06,148.16 L815.65,148.50 L816.24,148.84 L816.82,149.18 L817.39,149.51 L817.96,149.84 L818.52,150.17 L819.07,150.49 L819.62,150.81 L820.16,151.12 L820.70,151.43 L821.23,151.74 L821.75,152.05 L822.27,152.35 L822.79,152.65 L823.30,152.94 L823.80,153.24" fill="none" stroke="#1c1c1c" stroke-width="1.35" stroke-linejoin="round"/>
<line x1="592.9" y1="18.7" x2="824.6" y2="153.3" stroke="#ee2e2e" stroke-width="2.1" stroke-dasharray="6.7 5.3"/>
</g>
<g id="axes-text" filter="url(#g)" fill="#262626">
<line x1="348.50" y1="0.00" x2="348.50" y2="289.00" stroke="#2a2a2a" stroke-width="1.65" />
<line x1="19.10" y1="266.85" x2="333.80" y2="266.85" stroke="#747474" stroke-width="1.9" />
<line x1="25.60" y1="71.70" x2="25.60" y2="267.15" stroke="#222" stroke-width="1.4" />
<line x1="71.09" y1="267.05" x2="71.09" y2="263.15" stroke="#333" stroke-width="0.9" />
<line x1="97.69" y1="267.05" x2="97.69" y2="265.65" stroke="#333" stroke-width="0.9" />
<line x1="116.57" y1="267.05" x2="116.57" y2="265.65" stroke="#333" stroke-width="0.9" />
<line x1="131.21" y1="267.05" x2="131.21" y2="263.15" stroke="#333" stroke-width="0.9" />
<line x1="143.18" y1="267.05" x2="143.18" y2="265.65" stroke="#333" stroke-width="0.9" />
<line x1="153.29" y1="267.05" x2="153.29" y2="265.65" stroke="#333" stroke-width="0.9" />
<line x1="162.06" y1="267.05" x2="162.06" y2="265.65" stroke="#333" stroke-width="0.9" />
<line x1="169.79" y1="267.05" x2="169.79" y2="265.65" stroke="#333" stroke-width="0.9" />
<line x1="222.19" y1="267.05" x2="222.19" y2="263.15" stroke="#333" stroke-width="0.9" />
<line x1="248.79" y1="267.05" x2="248.79" y2="265.65" stroke="#333" stroke-width="0.9" />
<line x1="267.67" y1="267.05" x2="267.67" y2="265.65" stroke="#333" stroke-width="0.9" />
<line x1="282.31" y1="267.05" x2="282.31" y2="263.15" stroke="#333" stroke-width="0.9" />
<line x1="294.28" y1="267.05" x2="294.28" y2="265.65" stroke="#333" stroke-width="0.9" />
<line x1="304.39" y1="267.05" x2="304.39" y2="265.65" stroke="#333" stroke-width="0.9" />
<line x1="313.16" y1="267.05" x2="313.16" y2="265.65" stroke="#333" stroke-width="0.9" />
<line x1="320.89" y1="267.05" x2="320.89" y2="265.65" stroke="#333" stroke-width="0.9" />
<line x1="176.70" y1="267.05" x2="176.70" y2="263.15" stroke="#333" stroke-width="0.9" />
<line x1="327.80" y1="267.05" x2="327.80" y2="263.15" stroke="#333" stroke-width="0.9" />
<line x1="380.70" y1="266.75" x2="695.60" y2="266.75" stroke="#747474" stroke-width="1.9" />
<line x1="387.70" y1="72.20" x2="387.70" y2="267.05" stroke="#222" stroke-width="1.4" />
<line x1="433.13" y1="266.95" x2="433.13" y2="263.05" stroke="#333" stroke-width="0.9" />
<line x1="459.70" y1="266.95" x2="459.70" y2="265.55" stroke="#333" stroke-width="0.9" />
<line x1="478.55" y1="266.95" x2="478.55" y2="265.55" stroke="#333" stroke-width="0.9" />
<line x1="493.17" y1="266.95" x2="493.17" y2="263.05" stroke="#333" stroke-width="0.9" />
<line x1="505.12" y1="266.95" x2="505.12" y2="265.55" stroke="#333" stroke-width="0.9" />
<line x1="515.23" y1="266.95" x2="515.23" y2="265.55" stroke="#333" stroke-width="0.9" />
<line x1="523.98" y1="266.95" x2="523.98" y2="265.55" stroke="#333" stroke-width="0.9" />
<line x1="531.70" y1="266.95" x2="531.70" y2="265.55" stroke="#333" stroke-width="0.9" />
<line x1="584.03" y1="266.95" x2="584.03" y2="263.05" stroke="#333" stroke-width="0.9" />
<line x1="610.60" y1="266.95" x2="610.60" y2="265.55" stroke="#333" stroke-width="0.9" />
<line x1="629.45" y1="266.95" x2="629.45" y2="265.55" stroke="#333" stroke-width="0.9" />
<line x1="644.07" y1="266.95" x2="644.07" y2="263.05" stroke="#333" stroke-width="0.9" />
<line x1="656.02" y1="266.95" x2="656.02" y2="265.55" stroke="#333" stroke-width="0.9" />
<line x1="666.13" y1="266.95" x2="666.13" y2="265.55" stroke="#333" stroke-width="0.9" />
<line x1="674.88" y1="266.95" x2="674.88" y2="265.55" stroke="#333" stroke-width="0.9" />
<line x1="682.60" y1="266.95" x2="682.60" y2="265.55" stroke="#333" stroke-width="0.9" />
<line x1="538.60" y1="266.95" x2="538.60" y2="263.05" stroke="#333" stroke-width="0.9" />
<line x1="689.50" y1="266.95" x2="689.50" y2="263.05" stroke="#333" stroke-width="0.9" />
<line x1="25.60" y1="73.12" x2="27.30" y2="73.12" stroke="#222" stroke-width="1.0" />
<line x1="25.60" y1="104.80" x2="29.00" y2="104.80" stroke="#222" stroke-width="1.0" />
<line x1="25.60" y1="144.29" x2="27.30" y2="144.29" stroke="#222" stroke-width="1.0" />
<line x1="25.60" y1="195.20" x2="29.00" y2="195.20" stroke="#222" stroke-width="1.0" />
<line x1="387.70" y1="72.98" x2="389.40" y2="72.98" stroke="#222" stroke-width="1.0" />
<line x1="387.70" y1="125.40" x2="391.10" y2="125.40" stroke="#222" stroke-width="1.0" />
<line x1="387.70" y1="200.59" x2="391.10" y2="200.59" stroke="#222" stroke-width="1.0" />
<line x1="387.70" y1="253.94" x2="391.10" y2="253.94" stroke="#222" stroke-width="1.0" />
<line x1="387.70" y1="212.56" x2="389.40" y2="212.56" stroke="#222" stroke-width="1.0" />
<line x1="387.70" y1="225.35" x2="389.40" y2="225.35" stroke="#222" stroke-width="1.0" />
<line x1="387.70" y1="239.10" x2="389.40" y2="239.10" stroke="#222" stroke-width="1.0" />
<text transform="translate(5.60,107.50) scale(0.9429,1)" font-size="14">0.5</text>
<text transform="translate(5.40,199.40) scale(0.9486,1)" font-size="14">0.3</text>
<text transform="translate(367.30,131.00) scale(0.9486,1)" font-size="14">0.3</text>
<text transform="translate(367.30,205.80) scale(0.9486,1)" font-size="14">0.2</text>
<text transform="translate(361.30,259.80) scale(0.9510,1)" font-size="14">0.15</text>
<text x="21.90" y="279.80" font-size="14">1</text>
<text transform="translate(171.00,279.20) scale(0.9200,1)" font-size="14" letter-spacing="-0.304">10</text>
<text transform="translate(316.90,278.40) scale(0.9200,1)" font-size="14" letter-spacing="-0.065">100</text>
<text x="384.90" y="279.80" font-size="14">1</text>
<text transform="translate(532.20,279.20) scale(0.9200,1)" font-size="14" letter-spacing="-0.522">10</text>
<text transform="translate(679.70,278.40) scale(0.9200,1)" font-size="14" letter-spacing="-0.011">100</text>
<path d="M258.20,275.66 C258.71,274.44 259.50,274.08 260.66,274.08 L265.00,274.08" fill="none" stroke="#262626" stroke-width="0.95" stroke-linecap="round"/>
<path d="M262.03,274.08 C261.60,276.31 260.66,278.76 260.88,279.91 C260.95,280.27 261.31,280.27 261.53,280.13" fill="none" stroke="#262626" stroke-width="0.86" stroke-linecap="round"/>
<line x1="265.90" y1="283.40" x2="271.30" y2="270.07" stroke="#262626" stroke-width="0.72" stroke-linecap="round"/>
<path d="M272.20,275.66 C272.68,274.44 273.44,274.08 274.55,274.08 L278.70,274.08" fill="none" stroke="#262626" stroke-width="0.95" stroke-linecap="round"/>
<path d="M275.86,274.08 C275.45,276.31 274.55,278.76 274.76,279.91 C274.83,280.27 275.17,280.27 275.38,280.13" fill="none" stroke="#262626" stroke-width="0.86" stroke-linecap="round"/>
<text x="278.60" y="281.80" font-size="9.5">0</text>
<path d="M608.60,275.66 C609.11,274.44 609.90,274.08 611.06,274.08 L615.40,274.08" fill="none" stroke="#262626" stroke-width="0.95" stroke-linecap="round"/>
<path d="M612.43,274.08 C612.00,276.31 611.06,278.76 611.28,279.91 C611.35,280.27 611.71,280.27 611.93,280.13" fill="none" stroke="#262626" stroke-width="0.86" stroke-linecap="round"/>
<line x1="616.30" y1="283.40" x2="621.70" y2="270.07" stroke="#262626" stroke-width="0.72" stroke-linecap="round"/>
<path d="M622.60,275.66 C623.08,274.44 623.84,274.08 624.95,274.08 L629.10,274.08" fill="none" stroke="#262626" stroke-width="0.95" stroke-linecap="round"/>
<path d="M626.26,274.08 C625.85,276.31 624.95,278.76 625.16,279.91 C625.23,280.27 625.57,280.27 625.78,280.13" fill="none" stroke="#262626" stroke-width="0.86" stroke-linecap="round"/>
<text x="629.00" y="281.80" font-size="9.5">0</text>
<text transform="translate(118.89,36.20) scale(1.1400,1)" font-size="19.5" font-style="italic">λ</text>
<line x1="135.40" y1="29.70" x2="148.00" y2="29.70" stroke="#262626" stroke-width="1.15"/>
<line x1="135.40" y1="32.90" x2="148.00" y2="32.90" stroke="#262626" stroke-width="1.15"/>
<text transform="translate(155.40,36.20) scale(0.9389,1)" font-size="19">1.9</text>
<text transform="translate(447.69,35.90) scale(1.1400,1)" font-size="19.5" font-style="italic">λ</text>
<line x1="464.80" y1="29.40" x2="477.40" y2="29.40" stroke="#262626" stroke-width="1.15"/>
<line x1="464.80" y1="32.60" x2="477.40" y2="32.60" stroke="#262626" stroke-width="1.15"/>
<text transform="translate(485.90,35.90) scale(0.9853,1)" font-size="19">1.6</text>
<text transform="translate(8.20,55.60) scale(1.1396,1)" font-size="14.2" font-style="italic">T</text>
<path d="M12.50,44.15 c0.79,-1.1 1.50,-1.0 2.20,-0.45 s1.50,0.55 2.20,-0.55" fill="none" stroke="#262626" stroke-width="0.85" stroke-linecap="round"/>
<text transform="translate(18.20,57.20) scale(1.1400,1)" font-size="10.2" font-style="italic" letter-spacing="0.433">τ,q,λ</text>
<line x1="45.70" y1="59.70" x2="51.14" y2="46.37" stroke="#262626" stroke-width="0.72" stroke-linecap="round"/>
<text transform="translate(52.30,57.10) scale(1.0282,1)" font-size="14.2" font-style="italic">u</text>
<text transform="translate(355.00,60.30) scale(1.1396,1)" font-size="14.2" font-style="italic">T</text>
<path d="M359.30,48.85 c0.79,-1.1 1.50,-1.0 2.20,-0.45 s1.50,0.55 2.20,-0.55" fill="none" stroke="#262626" stroke-width="0.85" stroke-linecap="round"/>
<text transform="translate(365.00,61.90) scale(1.1400,1)" font-size="10.2" font-style="italic" letter-spacing="0.433">τ,q,λ</text>
<line x1="392.50" y1="64.40" x2="397.94" y2="51.07" stroke="#262626" stroke-width="0.72" stroke-linecap="round"/>
<text transform="translate(399.10,61.80) scale(1.0282,1)" font-size="14.2" font-style="italic">u</text>
<text transform="translate(30.78,83.80) scale(0.9200,1)" font-size="14" font-style="italic">q</text>
<line x1="41.30" y1="79.50" x2="50.90" y2="79.50" stroke="#262626" stroke-width="0.85"/>
<line x1="41.30" y1="81.80" x2="50.90" y2="81.80" stroke="#262626" stroke-width="0.85"/>
<text transform="translate(55.73,83.80) scale(0.9200,1)" font-size="14">Λ</text>
<text transform="translate(30.98,107.30) scale(0.9200,1)" font-size="14" font-style="italic">q</text>
<line x1="41.50" y1="103.00" x2="51.10" y2="103.00" stroke="#262626" stroke-width="0.85"/>
<line x1="41.50" y1="105.30" x2="51.10" y2="105.30" stroke="#262626" stroke-width="0.85"/>
<text x="55.70" y="107.30" font-size="14">7</text>
<line x1="63.30" y1="110.59" x2="68.90" y2="96.87" stroke="#262626" stroke-width="0.72" stroke-linecap="round"/>
<text x="69.20" y="107.30" font-size="14">8</text>
<text transform="translate(75.93,107.30) scale(0.9200,1)" font-size="14">Λ</text>
<text transform="translate(31.38,129.70) scale(0.9200,1)" font-size="14" font-style="italic">q</text>
<line x1="41.90" y1="125.40" x2="51.50" y2="125.40" stroke="#262626" stroke-width="0.85"/>
<line x1="41.90" y1="127.70" x2="51.50" y2="127.70" stroke="#262626" stroke-width="0.85"/>
<text x="56.10" y="129.70" font-size="14">3</text>
<line x1="63.70" y1="132.99" x2="69.30" y2="119.27" stroke="#262626" stroke-width="0.72" stroke-linecap="round"/>
<text x="69.60" y="129.70" font-size="14">4</text>
<text transform="translate(76.33,129.70) scale(0.9200,1)" font-size="14">Λ</text>
<text transform="translate(31.68,159.90) scale(0.9200,1)" font-size="14" font-style="italic">q</text>
<line x1="42.20" y1="155.60" x2="51.80" y2="155.60" stroke="#262626" stroke-width="0.85"/>
<line x1="42.20" y1="157.90" x2="51.80" y2="157.90" stroke="#262626" stroke-width="0.85"/>
<text x="56.40" y="159.90" font-size="14">5</text>
<line x1="64.00" y1="163.19" x2="69.60" y2="149.47" stroke="#262626" stroke-width="0.72" stroke-linecap="round"/>
<text x="69.90" y="159.90" font-size="14">8</text>
<text transform="translate(76.63,159.90) scale(0.9200,1)" font-size="14">Λ</text>
<text transform="translate(31.78,194.90) scale(0.9200,1)" font-size="14" font-style="italic">q</text>
<line x1="42.30" y1="190.60" x2="51.90" y2="190.60" stroke="#262626" stroke-width="0.85"/>
<line x1="42.30" y1="192.90" x2="51.90" y2="192.90" stroke="#262626" stroke-width="0.85"/>
<text x="56.50" y="194.90" font-size="14">1</text>
<line x1="64.10" y1="198.19" x2="69.70" y2="184.47" stroke="#262626" stroke-width="0.72" stroke-linecap="round"/>
<text x="70.00" y="194.90" font-size="14">2</text>
<text transform="translate(76.73,194.90) scale(0.9200,1)" font-size="14">Λ</text>
<text transform="translate(31.98,240.00) scale(0.9200,1)" font-size="14" font-style="italic">q</text>
<line x1="42.50" y1="235.70" x2="52.10" y2="235.70" stroke="#262626" stroke-width="0.85"/>
<line x1="42.50" y1="238.00" x2="52.10" y2="238.00" stroke="#262626" stroke-width="0.85"/>
<text x="56.70" y="240.00" font-size="14">3</text>
<line x1="64.30" y1="243.29" x2="69.90" y2="229.57" stroke="#262626" stroke-width="0.72" stroke-linecap="round"/>
<text x="70.20" y="240.00" font-size="14">8</text>
<text transform="translate(76.93,240.00) scale(0.9200,1)" font-size="14">Λ</text>
<text transform="translate(396.48,84.60) scale(0.9200,1)" font-size="14" font-style="italic">q</text>
<line x1="407.00" y1="80.30" x2="416.60" y2="80.30" stroke="#262626" stroke-width="0.85"/>
<line x1="407.00" y1="82.60" x2="416.60" y2="82.60" stroke="#262626" stroke-width="0.85"/>
<text transform="translate(421.43,84.60) scale(0.9200,1)" font-size="14">Λ</text>
<text transform="translate(396.48,109.80) scale(0.9200,1)" font-size="14" font-style="italic">q</text>
<line x1="407.00" y1="105.50" x2="416.60" y2="105.50" stroke="#262626" stroke-width="0.85"/>
<line x1="407.00" y1="107.80" x2="416.60" y2="107.80" stroke="#262626" stroke-width="0.85"/>
<text x="421.20" y="109.80" font-size="14">7</text>
<line x1="428.80" y1="113.09" x2="434.40" y2="99.37" stroke="#262626" stroke-width="0.72" stroke-linecap="round"/>
<text x="434.70" y="109.80" font-size="14">8</text>
<text transform="translate(441.43,109.80) scale(0.9200,1)" font-size="14">Λ</text>
<text transform="translate(396.48,135.50) scale(0.9200,1)" font-size="14" font-style="italic">q</text>
<line x1="407.00" y1="131.20" x2="416.60" y2="131.20" stroke="#262626" stroke-width="0.85"/>
<line x1="407.00" y1="133.50" x2="416.60" y2="133.50" stroke="#262626" stroke-width="0.85"/>
<text x="421.20" y="135.50" font-size="14">3</text>
<line x1="428.80" y1="138.79" x2="434.40" y2="125.07" stroke="#262626" stroke-width="0.72" stroke-linecap="round"/>
<text x="434.70" y="135.50" font-size="14">4</text>
<text transform="translate(441.43,135.50) scale(0.9200,1)" font-size="14">Λ</text>
<text transform="translate(396.48,167.00) scale(0.9200,1)" font-size="14" font-style="italic">q</text>
<line x1="407.00" y1="162.70" x2="416.60" y2="162.70" stroke="#262626" stroke-width="0.85"/>
<line x1="407.00" y1="165.00" x2="416.60" y2="165.00" stroke="#262626" stroke-width="0.85"/>
<text x="421.20" y="167.00" font-size="14">5</text>
<line x1="428.80" y1="170.29" x2="434.40" y2="156.57" stroke="#262626" stroke-width="0.72" stroke-linecap="round"/>
<text x="434.70" y="167.00" font-size="14">8</text>
<text transform="translate(441.43,167.00) scale(0.9200,1)" font-size="14">Λ</text>
<text transform="translate(396.48,205.80) scale(0.9200,1)" font-size="14" font-style="italic">q</text>
<line x1="407.00" y1="201.50" x2="416.60" y2="201.50" stroke="#262626" stroke-width="0.85"/>
<line x1="407.00" y1="203.80" x2="416.60" y2="203.80" stroke="#262626" stroke-width="0.85"/>
<text x="421.20" y="205.80" font-size="14">1</text>
<line x1="428.80" y1="209.09" x2="434.40" y2="195.37" stroke="#262626" stroke-width="0.72" stroke-linecap="round"/>
<text x="434.70" y="205.80" font-size="14">2</text>
<text transform="translate(441.43,205.80) scale(0.9200,1)" font-size="14">Λ</text>
<text transform="translate(392.68,255.00) scale(0.9200,1)" font-size="14" font-style="italic">q</text>
<line x1="403.20" y1="250.70" x2="412.80" y2="250.70" stroke="#262626" stroke-width="0.85"/>
<line x1="403.20" y1="253.00" x2="412.80" y2="253.00" stroke="#262626" stroke-width="0.85"/>
<text x="417.40" y="255.00" font-size="14">3</text>
<line x1="425.00" y1="258.29" x2="430.60" y2="244.57" stroke="#262626" stroke-width="0.72" stroke-linecap="round"/>
<text x="430.90" y="255.00" font-size="14">8</text>
<text transform="translate(437.63,255.00) scale(0.9200,1)" font-size="14">Λ</text>
<line x1="129.80" y1="246.00" x2="179.50" y2="246.00" stroke="#ee2e2e" stroke-width="1.7" stroke-dasharray="6.05 5.85"/>
<text transform="translate(190.90,250.80) scale(1.1224,1)" font-size="16.5" font-style="italic">T</text>
<text transform="translate(201.39,252.60) scale(1.1400,1)" font-size="11.8" font-style="italic">λ</text>
<line x1="213.30" y1="246.40" x2="223.50" y2="246.40" stroke="#262626" stroke-width="0.95"/>
<line x1="218.40" y1="241.30" x2="218.40" y2="251.50" stroke="#262626" stroke-width="0.95"/>
<text transform="translate(228.90,250.80) scale(1.1121,1)" font-size="16.5">Δ</text>
<path d="M242.10,245.57 C242.74,244.16 243.75,243.75 245.21,243.75 L250.70,243.75" fill="none" stroke="#262626" stroke-width="1.10" stroke-linecap="round"/>
<path d="M246.95,243.75 C246.40,246.32 245.21,249.14 245.49,250.47 C245.58,250.88 246.03,250.88 246.31,250.72" fill="none" stroke="#262626" stroke-width="1.00" stroke-linecap="round"/>
<line x1="252.20" y1="242.20" x2="259.00" y2="242.20" stroke="#262626" stroke-width="0.95"/>
<text transform="translate(260.51,244.80) scale(1.1400,1)" font-size="11.5" font-style="italic">μ</text>
<line x1="560.40" y1="247.70" x2="610.10" y2="247.70" stroke="#ee2e2e" stroke-width="1.7" stroke-dasharray="6.05 5.85"/>
<text transform="translate(614.70,252.80) scale(1.1224,1)" font-size="16.5" font-style="italic">T</text>
<text transform="translate(625.19,254.60) scale(1.1400,1)" font-size="11.8" font-style="italic">λ</text>
<line x1="637.10" y1="248.40" x2="647.30" y2="248.40" stroke="#262626" stroke-width="0.95"/>
<line x1="642.20" y1="243.30" x2="642.20" y2="253.50" stroke="#262626" stroke-width="0.95"/>
<text transform="translate(652.70,252.80) scale(1.1121,1)" font-size="16.5">Δ</text>
<path d="M665.90,247.57 C666.54,246.16 667.55,245.75 669.01,245.75 L674.50,245.75" fill="none" stroke="#262626" stroke-width="1.10" stroke-linecap="round"/>
<path d="M670.75,245.75 C670.20,248.32 669.01,251.14 669.29,252.47 C669.38,252.88 669.83,252.88 670.11,252.72" fill="none" stroke="#262626" stroke-width="1.00" stroke-linecap="round"/>
<line x1="676.00" y1="244.20" x2="682.80" y2="244.20" stroke="#262626" stroke-width="0.95"/>
<text transform="translate(684.31,246.80) scale(1.1400,1)" font-size="11.5" font-style="italic">μ</text>
<line x1="592.90" y1="18.80" x2="592.90" y2="154.50" stroke="#222" stroke-width="1.4" />
<line x1="592.20" y1="153.80" x2="826.20" y2="153.80" stroke="#747474" stroke-width="1.8" />
<line x1="628.04" y1="154.00" x2="628.04" y2="150.80" stroke="#333" stroke-width="0.9" />
<line x1="648.36" y1="154.00" x2="648.36" y2="152.50" stroke="#333" stroke-width="0.9" />
<line x1="662.78" y1="154.00" x2="662.78" y2="152.50" stroke="#333" stroke-width="0.9" />
<line x1="673.96" y1="154.00" x2="673.96" y2="150.80" stroke="#333" stroke-width="0.9" />
<line x1="683.10" y1="154.00" x2="683.10" y2="152.50" stroke="#333" stroke-width="0.9" />
<line x1="690.82" y1="154.00" x2="690.82" y2="152.50" stroke="#333" stroke-width="0.9" />
<line x1="697.52" y1="154.00" x2="697.52" y2="152.50" stroke="#333" stroke-width="0.9" />
<line x1="703.42" y1="154.00" x2="703.42" y2="152.50" stroke="#333" stroke-width="0.9" />
<line x1="708.70" y1="154.00" x2="708.70" y2="150.80" stroke="#333" stroke-width="0.9" />
<line x1="743.44" y1="154.00" x2="743.44" y2="150.80" stroke="#333" stroke-width="0.9" />
<line x1="763.76" y1="154.00" x2="763.76" y2="152.50" stroke="#333" stroke-width="0.9" />
<line x1="778.18" y1="154.00" x2="778.18" y2="152.50" stroke="#333" stroke-width="0.9" />
<line x1="789.36" y1="154.00" x2="789.36" y2="150.80" stroke="#333" stroke-width="0.9" />
<line x1="798.50" y1="154.00" x2="798.50" y2="152.50" stroke="#333" stroke-width="0.9" />
<line x1="806.22" y1="154.00" x2="806.22" y2="152.50" stroke="#333" stroke-width="0.9" />
<line x1="812.92" y1="154.00" x2="812.92" y2="152.50" stroke="#333" stroke-width="0.9" />
<line x1="818.82" y1="154.00" x2="818.82" y2="152.50" stroke="#333" stroke-width="0.9" />
<line x1="824.10" y1="154.00" x2="824.10" y2="150.80" stroke="#333" stroke-width="0.9" />
<line x1="592.90" y1="140.32" x2="595.90" y2="140.32" stroke="#222" stroke-width="1.0" />
<line x1="592.90" y1="109.73" x2="594.50" y2="109.73" stroke="#222" stroke-width="1.0" />
<line x1="592.90" y1="69.30" x2="595.90" y2="69.30" stroke="#222" stroke-width="1.0" />
<line x1="592.90" y1="38.72" x2="595.90" y2="38.72" stroke="#222" stroke-width="1.0" />
<line x1="592.90" y1="122.42" x2="594.50" y2="122.42" stroke="#222" stroke-width="1.0" />
<line x1="592.90" y1="91.84" x2="594.50" y2="91.84" stroke="#222" stroke-width="1.0" />
<line x1="592.90" y1="79.15" x2="594.50" y2="79.15" stroke="#222" stroke-width="1.0" />
<line x1="592.90" y1="61.26" x2="594.50" y2="61.26" stroke="#222" stroke-width="1.0" />
<line x1="592.90" y1="54.45" x2="594.50" y2="54.45" stroke="#222" stroke-width="1.0" />
<line x1="592.90" y1="48.56" x2="594.50" y2="48.56" stroke="#222" stroke-width="1.0" />
<line x1="592.90" y1="43.36" x2="594.50" y2="43.36" stroke="#222" stroke-width="1.0" />
<line x1="592.90" y1="20.82" x2="594.50" y2="20.82" stroke="#222" stroke-width="1.0" />
<text transform="translate(596.50,73.90) scale(0.9916,1)" font-size="13.6">0.05</text>
<text transform="translate(596.70,145.20) scale(0.9664,1)" font-size="13.6">0.01</text>
<text transform="translate(700.60,167.20) scale(0.9765,1)" font-size="13.6">0.1</text>
<text x="817.20" y="166.30" font-size="13.6">1</text>
<line x1="735.60" y1="164.30" x2="742.00" y2="170.70" stroke="#262626" stroke-width="0.95"/>
<line x1="735.60" y1="170.70" x2="742.00" y2="164.30" stroke="#262626" stroke-width="0.95"/>
<text transform="translate(744.80,170.90) scale(0.9200,1)" font-size="13.6" letter-spacing="-0.122">10</text>
<text x="757.50" y="165.20" font-size="9.2">3</text>
<path d="M763.50,166.55 C764.01,165.38 764.82,165.03 766.00,165.03 L770.40,165.03" fill="none" stroke="#262626" stroke-width="0.91" stroke-linecap="round"/>
<path d="M767.39,165.03 C766.95,167.17 766.00,169.52 766.22,170.62 C766.29,170.97 766.66,170.97 766.88,170.83" fill="none" stroke="#262626" stroke-width="0.83" stroke-linecap="round"/>
<line x1="771.80" y1="174.17" x2="777.70" y2="160.54" stroke="#262626" stroke-width="0.72" stroke-linecap="round"/>
<path d="M779.30,166.55 C779.77,165.38 780.51,165.03 781.58,165.03 L785.60,165.03" fill="none" stroke="#262626" stroke-width="0.91" stroke-linecap="round"/>
<path d="M782.85,165.03 C782.45,167.17 781.58,169.52 781.78,170.62 C781.85,170.97 782.18,170.97 782.38,170.83" fill="none" stroke="#262626" stroke-width="0.83" stroke-linecap="round"/>
<text x="784.90" y="172.80" font-size="8.8">0</text>
<line x1="617.00" y1="16.00" x2="623.60" y2="22.60" stroke="#262626" stroke-width="0.95"/>
<line x1="617.00" y1="22.60" x2="623.60" y2="16.00" stroke="#262626" stroke-width="0.95"/>
<text x="625.60" y="23.20" font-size="16.2">(</text>
<text transform="translate(630.40,22.90) scale(1.1396,1)" font-size="14.2" font-style="italic">T</text>
<path d="M634.60,11.45 c0.79,-1.1 1.50,-1.0 2.20,-0.45 s1.50,0.55 2.20,-0.55" fill="none" stroke="#262626" stroke-width="0.85" stroke-linecap="round"/>
<text transform="translate(640.20,24.60) scale(1.1400,1)" font-size="10.2" font-style="italic" letter-spacing="0.301">τ,q,λ</text>
<line x1="667.00" y1="19.30" x2="675.00" y2="19.30" stroke="#262626" stroke-width="0.95"/>
<text transform="translate(678.70,22.90) scale(1.1396,1)" font-size="14.2" font-style="italic">T</text>
<text transform="translate(688.58,24.90) scale(1.1400,1)" font-size="10.2" font-style="italic">λ</text>
<text x="693.60" y="23.20" font-size="16.2">)</text>
<line x1="699.60" y1="26.14" x2="705.40" y2="12.62" stroke="#262626" stroke-width="0.72" stroke-linecap="round"/>
<text transform="translate(707.30,22.90) scale(1.1127,1)" font-size="14.2" font-style="italic">u</text>
<line x1="707.90" y1="48.05" x2="757.80" y2="48.05" stroke="#ee2e2e" stroke-width="1.7" stroke-dasharray="6 6"/>
<text transform="translate(762.40,54.40) scale(1.0640,1)" font-size="19">Δ</text>
<path d="M777.50,48.60 C778.19,47.04 779.26,46.58 780.83,46.58 L786.70,46.58" fill="none" stroke="#262626" stroke-width="1.21" stroke-linecap="round"/>
<path d="M782.69,46.58 C782.10,49.43 780.83,52.56 781.12,54.03 C781.22,54.49 781.71,54.49 782.00,54.31" fill="none" stroke="#262626" stroke-width="1.10" stroke-linecap="round"/>
<line x1="788.40" y1="44.00" x2="796.20" y2="44.00" stroke="#262626" stroke-width="1.05"/>
<text transform="translate(798.60,47.00) scale(1.1215,1)" font-size="13.5" font-style="italic">μ</text>
</g>
</svg>
</body></html>
